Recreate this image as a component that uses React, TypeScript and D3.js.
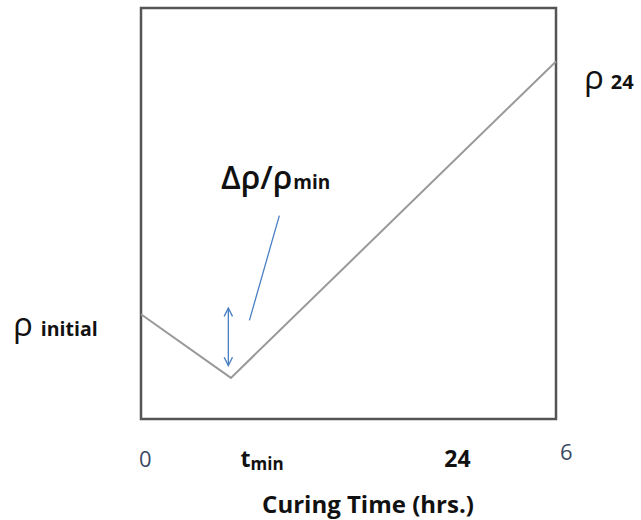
import * as d3 from "d3";

// curve: time (hrs) vs relative resistivity
const times = [0, 5.2, 24];
const rho = [0.255, 0.1, 0.87];
const tickValues = [0.25, 7.0, 18.3, 24.6];
const tickLabels = ["0", "t", "24", "6"];
const tickSubs = ["", "min", "", ""];
const tickBold = [false, true, true, false];
const tickLift = [0, 0, 0, 7];
const arrowRange = [0.27, 0.13];

export default function App() {
  const width = 641,
    height = 520;
  const margin = { left: 141, right: 85, top: 8, bottom: 101 };
  const x = d3
    .scaleLinear()
    .domain([0, 24])
    .range([margin.left, width - margin.right]);
  const y = d3
    .scaleLinear()
    .domain([0, 1])
    .range([height - margin.bottom, margin.top]);
  const pts = times.map((t, i) => [x(t), y(rho[i])] as [number, number]);
  const line = d3.line();
  const font = "'Open Sans', sans-serif";
  const blue = "#4a7fc4";
  const ax = x(5.05);
  return (
    <svg
      width={width}
      height={height}
      style={{ position: "absolute", left: 0, top: 0 }}
      fontFamily={font}
    >
      <defs>
        <marker
          id="head"
          viewBox="0 0 10 10"
          refX={9}
          refY={5}
          markerWidth={8}
          markerHeight={8}
          orient="auto-start-reverse"
        >
          <path d="M1,1 L9,5 L1,9" fill="none" stroke={blue} strokeWidth={1.3} />
        </marker>
      </defs>
      <rect
        x={x(0)}
        y={y(1)}
        width={x(24) - x(0)}
        height={y(0) - y(1)}
        fill="white"
        stroke="#555"
        strokeWidth={2.5}
      />
      <path d={line(pts) ?? ""} fill="none" stroke="#999" strokeWidth={2} />
      <line
        x1={ax}
        x2={ax}
        y1={y(arrowRange[0])}
        y2={y(arrowRange[1])}
        stroke={blue}
        strokeWidth={1.3}
        markerStart="url(#head)"
        markerEnd="url(#head)"
      />
      <line x1={x(6.27)} y1={y(0.24)} x2={x(8.0)} y2={y(0.495)} stroke={blue} strokeWidth={1.3} />
      <text x={221} y={189} fontSize={32} fill="#111" fontWeight={600}>
        Δρ/ρ
        <tspan fontSize={19} fontWeight="bold" dx={1}>
          min
        </tspan>
      </text>
      <text x={13} y={336} fontSize={33} fill="#111">
        ρ
        <tspan dx={8} fontSize={19.5} fontWeight="bold">
          initial
        </tspan>
      </text>
      <text x={584} y={89} fontSize={33} fill="#111">
        ρ
        <tspan dx={7} fontSize={20} fontWeight="bold">
          24
        </tspan>
      </text>
      {tickLabels.map((lab, i) => (
        <text
          key={i}
          x={x(tickValues[i])}
          y={467 - tickLift[i]}
          textAnchor="middle"
          fontSize={tickBold[i] ? 23 : 22}
          fontWeight={tickBold[i] ? "bold" : "normal"}
          fill={tickBold[i] ? "#111" : "#3a4a66"}
        >
          {lab}
          {tickSubs[i] && (
            <tspan fontSize={17} dy={3}>
              {tickSubs[i]}
            </tspan>
          )}
        </text>
      ))}
      <text
        x={368}
        y={513}
        textAnchor="middle"
        fontSize={24}
        fontWeight="bold"
        fill="#111"
      >
        Curing Time (hrs.)
      </text>
    </svg>
  );
}
